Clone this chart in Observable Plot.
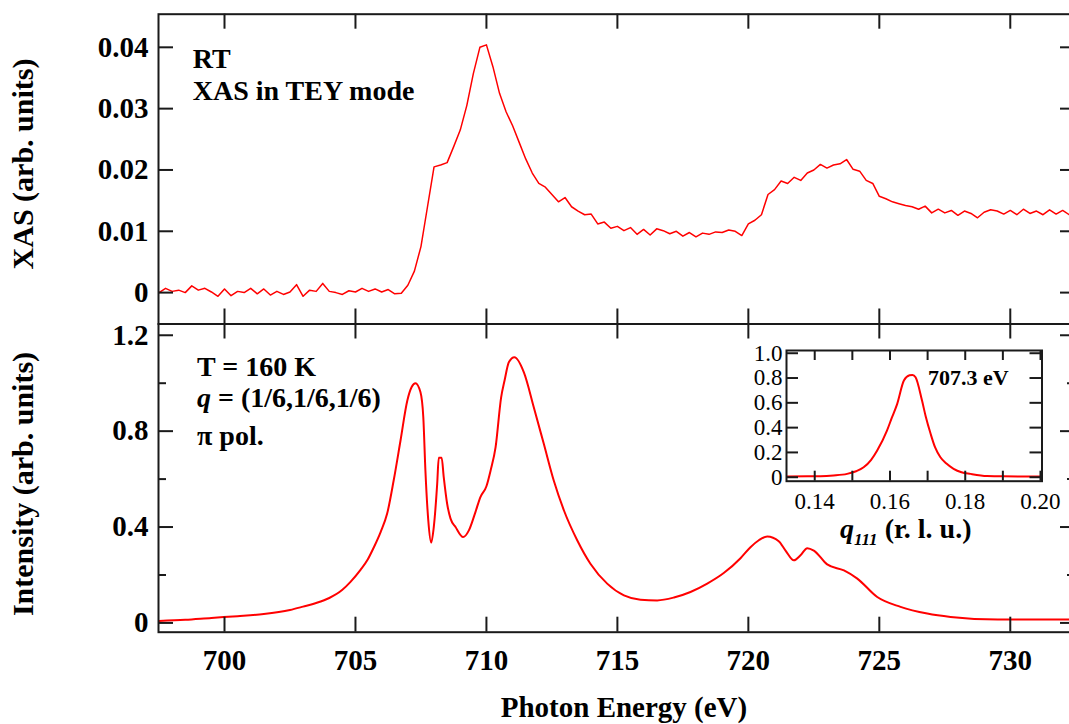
<!DOCTYPE html>
<html><head><meta charset="utf-8">
<script src="https://cdn.jsdelivr.net/npm/d3@7"></script>
<script src="https://cdn.jsdelivr.net/npm/@observablehq/plot@0.6"></script>
<style>
html,body{margin:0;padding:0;background:#fff;overflow:hidden}
#chart{position:relative;width:1069px;height:724px;overflow:hidden;background:#fff}
#chart svg{position:absolute;left:0;top:0;max-width:none !important;background:transparent !important;overflow:visible}
</style></head><body><div id="chart"></div>
<script>
// ---- Top panel: XAS (TEY), room temperature ----
const xasEnergy = [697.50,697.75,698.00,698.25,698.50,698.75,699.00,699.25,699.50,699.75,
700.00,700.25,700.50,700.75,701.00,701.25,701.50,701.75,702.00,702.25,
702.50,702.75,703.00,703.25,703.50,703.75,704.00,704.25,704.50,704.75,
705.00,705.25,705.50,705.75,706.00,706.25,706.50,706.75,707.00,707.25,
707.50,707.75,708.00,708.25,708.50,708.75,709.00,709.25,709.50,709.75,
710.00,710.25,710.50,710.75,711.00,711.25,711.50,711.75,712.00,712.25,
712.50,712.75,713.00,713.25,713.50,713.75,714.00,714.25,714.50,714.75,
715.00,715.25,715.50,715.75,716.00,716.25,716.50,716.75,717.00,717.25,
717.50,717.75,718.00,718.25,718.50,718.75,719.00,719.25,719.50,719.75,
720.00,720.25,720.50,720.75,721.00,721.25,721.50,721.75,722.00,722.25,
722.50,722.75,723.00,723.25,723.50,723.75,724.00,724.25,724.50,724.75,
725.00,725.25,725.50,725.75,726.00,726.25,726.50,726.75,727.00,727.25,
727.50,727.75,728.00,728.25,728.50,728.75,729.00,729.25,729.50,729.75,
730.00,730.25,730.50,730.75,731.00,731.25,731.50,731.75,732.00,732.25,732.50];
const xasValue = [0.0000,0.0007,0.0002,0.0004,0.0000,0.0011,0.0004,0.0007,0.0001,-0.0006,
0.0006,-0.0005,0.0002,0.0000,0.0007,-0.0002,0.0006,-0.0004,0.0002,-0.0003,
0.0001,0.0013,-0.0006,0.0004,0.0002,0.0015,0.0002,0.0000,-0.0003,0.0003,
0.0001,0.0007,0.0002,0.0006,0.0001,0.0005,-0.0002,-0.0001,0.0012,0.0035,
0.0075,0.0140,0.0205,0.0208,0.0212,0.0238,0.0265,0.0305,0.0357,0.0400,
0.0404,0.0368,0.0325,0.0295,0.0272,0.0245,0.0218,0.0195,0.0178,0.0172,
0.0160,0.0148,0.0155,0.0140,0.0133,0.0127,0.0128,0.0112,0.0115,0.0105,
0.0108,0.0101,0.0106,0.0095,0.0103,0.0094,0.0104,0.0101,0.0096,0.0100,
0.0092,0.0098,0.0091,0.0097,0.0095,0.0099,0.0098,0.0102,0.0100,0.0093,
0.0112,0.0118,0.0127,0.0160,0.0168,0.0182,0.0178,0.0188,0.0183,0.0195,
0.0200,0.0209,0.0203,0.0208,0.0210,0.0217,0.0201,0.0198,0.0183,0.0178,
0.0157,0.0153,0.0148,0.0145,0.0142,0.0140,0.0136,0.0141,0.0130,0.0136,
0.0130,0.0134,0.0126,0.0133,0.0129,0.0122,0.0131,0.0135,0.0133,0.0128,
0.0134,0.0127,0.0136,0.0129,0.0133,0.0127,0.0135,0.0128,0.0134,0.0127,0.0132];

// ---- Bottom panel: resonant intensity, T = 160 K ----
const rxsEnergy = [697.5,698.5,699.5,700.5,701.5,702.5,703.0,703.5,704.0,704.5,
704.81,705.2,705.45,705.7,705.96,706.21,706.46,706.72,706.98,707.15,
707.29,707.48,707.59,707.67,707.78,707.89,707.99,708.12,708.18,708.29,
708.37,708.50,708.63,708.82,709.11,709.33,709.58,709.77,710.0,710.16,
710.35,710.56,710.69,710.86,711.07,711.43,711.81,712.19,712.57,712.96,
713.47,713.97,714.61,715.25,715.88,716.52,717.16,717.79,718.43,719.06,
719.70,720.08,720.40,720.72,721.16,721.42,721.74,721.99,722.25,722.50,
723.01,723.65,724.16,724.92,725.81,726.83,727.72,729.53,732.5];
const rxsIntensity = [0.008,0.013,0.021,0.028,0.037,0.054,0.068,0.083,0.104,0.138,
0.171,0.222,0.261,0.315,0.379,0.456,0.595,0.761,0.928,0.985,
1.000,0.963,0.858,0.636,0.428,0.335,0.400,0.580,0.689,0.689,
0.608,0.497,0.435,0.400,0.358,0.386,0.4625,0.525,0.570,0.636,
0.733,0.940,1.010,1.088,1.108,1.045,0.899,0.747,0.594,0.469,
0.344,0.247,0.164,0.115,0.097,0.094,0.106,0.129,0.164,0.208,
0.270,0.316,0.345,0.361,0.341,0.302,0.261,0.282,0.312,0.302,
0.244,0.219,0.185,0.108,0.067,0.039,0.025,0.014,0.014];

// ---- Inset: q scan at 707.3 eV ----
const insetQ = [0.1327,0.1380,0.1415,0.1450,0.1486,0.1510,0.1530,0.1550,0.1566,0.1592,
0.1605,0.1619,0.1637,0.1652,0.1660,0.1668,0.1685,0.1695,0.1708,0.1720,
0.1734,0.1750,0.1769,0.1790,0.1814,0.1858,0.1900,0.2000];
const insetIntensity = [0.006,0.007,0.008,0.014,0.027,0.048,0.080,0.140,0.215,0.376,
0.480,0.590,0.780,0.822,0.825,0.806,0.620,0.490,0.350,0.240,
0.161,0.110,0.068,0.040,0.027,0.010,0.007,0.006];

// ---- ticks ----
const energyTicks = [700,705,710,715,720,725,730];
const xasTicks = [0,0.01,0.02,0.03,0.04];
const rxsMajorTicks = [0,0.4,0.8,1.2];
const rxsMinorTicks = [0.2,0.6,1.0];
const insetXTicks = [0.14,0.15,0.16,0.17,0.18,0.19,0.20];
const insetXLabels = [0.14,0.16,0.18,0.20];
const insetYTicks = [0,0.2,0.4,0.6,0.8,1.0];

// ---- layout ----
const W = 1075, H = 724;
const L = 158, topY0 = 13.7, midY = 323.5, botY1 = 631.7;
const plotW = W - L;
const ink = "#1a1a1a";
const serif = "Liberation Serif, Times New Roman, serif";
const energyDomain = [697.48, 732.49];
const svgStyle = {background: "transparent", maxWidth: "none", overflow: "visible"};

const xasData = xasEnergy.map((e, i) => ({e, v: xasValue[i]}));
const rxsData = rxsEnergy.map((e, i) => ({e, v: rxsIntensity[i]}));
const insetData = insetQ.map((q, i) => ({q, v: insetIntensity[i]}));

const fmt = (n) => (d) => d === 0 ? "0" : d.toFixed(n);
const chart = document.getElementById("chart");

// Top panel
const topH = midY - topY0;
chart.append(Plot.plot({
  width: W, height: H,
  marginLeft: L, marginRight: 0, marginTop: topY0, marginBottom: H - midY,
  style: svgStyle,
  x: {domain: energyDomain, axis: null},
  y: {domain: [-0.00512, 0.0454], axis: null},
  marks: [
    Plot.line(xasData, {x: "e", y: "v", stroke: "#ff0000", strokeWidth: 1.5, clip: true}),
    Plot.tickX(energyTicks, {x: d => d, insetBottom: topH - 15, stroke: ink, strokeWidth: 2}),
    Plot.tickX(energyTicks, {x: d => d, insetTop: topH - 15, stroke: ink, strokeWidth: 2}),
    Plot.tickY(xasTicks, {y: d => d, insetRight: plotW - 15, stroke: ink, strokeWidth: 2}),
    Plot.tickY(xasTicks, {y: d => d, insetLeft: plotW - 15, stroke: ink, strokeWidth: 2}),
    Plot.axisY(xasTicks, {anchor: "left", tickSize: 0, tickPadding: 10, tickFormat: fmt(2),
      fontSize: 29, fontWeight: "bold", fontFamily: serif, fill: "#000", label: null}),
    Plot.frame({stroke: ink, strokeWidth: 2})
  ]
}));

// Bottom panel
const botH = botY1 - midY;
chart.append(Plot.plot({
  width: W, height: H,
  marginLeft: L, marginRight: 0, marginTop: midY, marginBottom: H - botY1,
  style: svgStyle,
  x: {domain: energyDomain, axis: null},
  y: {domain: [-0.0387, 1.247], axis: null},
  marks: [
    Plot.line(rxsData, {x: "e", y: "v", stroke: "#ff0000", strokeWidth: 2, curve: "monotone-x", clip: true}),
    Plot.tickX(energyTicks, {x: d => d, insetBottom: botH - 15, stroke: ink, strokeWidth: 2}),
    Plot.tickX(energyTicks, {x: d => d, insetTop: botH - 15, stroke: ink, strokeWidth: 2}),
    Plot.tickY(rxsMajorTicks, {y: d => d, insetRight: plotW - 15, stroke: ink, strokeWidth: 2}),
    Plot.tickY(rxsMajorTicks, {y: d => d, insetLeft: plotW - 15, stroke: ink, strokeWidth: 2}),
    Plot.tickY(rxsMinorTicks, {y: d => d, insetRight: plotW - 8, stroke: ink, strokeWidth: 2}),
    Plot.tickY(rxsMinorTicks, {y: d => d, insetLeft: plotW - 8, stroke: ink, strokeWidth: 2}),
    Plot.axisY(rxsMajorTicks, {anchor: "left", tickSize: 0, tickPadding: 10, tickFormat: fmt(1),
      fontSize: 29, fontWeight: "bold", fontFamily: serif, fill: "#000", label: null}),
    Plot.axisX(energyTicks, {anchor: "bottom", tickSize: 0, tickPadding: 17, tickFormat: d => String(d),
      fontSize: 29, fontWeight: "bold", fontFamily: serif, fill: "#000", label: null}),
    Plot.frame({stroke: ink, strokeWidth: 2})
  ]
}));

// Inset
const inL = 786, inR = 1041.5, inT = 350, inB = 480.7;
const inW = inR - inL, inH = inB - inT;
chart.append(Plot.plot({
  width: W, height: H,
  marginLeft: inL, marginRight: W - inR, marginTop: inT, marginBottom: H - inB,
  style: svgStyle,
  x: {domain: [0.1325, 0.2004], axis: null},
  y: {domain: [-0.032, 1.022], axis: null},
  marks: [
    Plot.line(insetData, {x: "q", y: "v", stroke: "#ff0000", strokeWidth: 2, curve: "monotone-x", clip: true}),
    Plot.tickX(insetXTicks, {x: d => d, insetBottom: inH - 10, stroke: ink, strokeWidth: 2}),
    Plot.tickX(insetXTicks, {x: d => d, insetTop: inH - 10, stroke: ink, strokeWidth: 2}),
    Plot.tickY(insetYTicks, {y: d => d, insetRight: inW - 12, stroke: ink, strokeWidth: 2}),
    Plot.tickY(insetYTicks, {y: d => d, insetLeft: inW - 12, stroke: ink, strokeWidth: 2}),
    Plot.axisY(insetYTicks, {anchor: "left", tickSize: 0, tickPadding: 4, tickFormat: fmt(1),
      fontSize: 23, fontFamily: serif, fill: "#000", label: null}),
    Plot.axisX(insetXLabels, {anchor: "bottom", tickSize: 0, tickPadding: 11, tickFormat: d => d.toFixed(2),
      fontSize: 23, fontFamily: serif, fill: "#000", label: null}),
    Plot.frame({stroke: ink, strokeWidth: 2})
  ]
}));

// Text overlay (titles and annotations)
const ov = d3.create("svg").attr("width", 1069).attr("height", 724)
  .attr("font-family", serif).attr("font-weight", "bold").attr("fill", "#000");
function label(x, y, txt, size) {
  return ov.append("text").attr("x", x).attr("y", y).attr("font-size", size).text(txt);
}
// axis titles
ov.append("text").attr("transform", "translate(33.3,164) rotate(-90)")
  .attr("text-anchor", "middle").attr("font-size", 30).text("XAS (arb. units)");
ov.append("text").attr("transform", "translate(33.3,484) rotate(-90)")
  .attr("text-anchor", "middle").attr("font-size", 30).text("Intensity (arb. units)");
ov.append("text").attr("x", 624).attr("y", 716.5).attr("text-anchor", "middle")
  .attr("font-size", 29).text("Photon Energy (eV)");
// top panel annotations
label(192.7, 68, "RT", 28);
label(192.7, 100, "XAS in TEY mode", 28);
// bottom panel annotations
label(197, 375.7, "T = 160 K", 28);
const qt = ov.append("text").attr("x", 197).attr("y", 407).attr("font-size", 28);
qt.append("tspan").attr("font-style", "italic").text("q");
qt.append("tspan").text(" = (1/6,1/6,1/6)");
label(197, 445, "π pol.", 28);
// inset annotations
label(928, 385, "707.3 eV", 22);
const ql = ov.append("text").attr("x", 840).attr("y", 538).attr("font-size", 28);
ql.append("tspan").attr("font-style", "italic").text("q");
ql.append("tspan").attr("font-style", "italic").attr("font-size", 17).attr("dy", 7).text("111");
ql.append("tspan").attr("dy", -7).text(" (r. l. u.)");
chart.append(ov.node());
</script></body></html>
